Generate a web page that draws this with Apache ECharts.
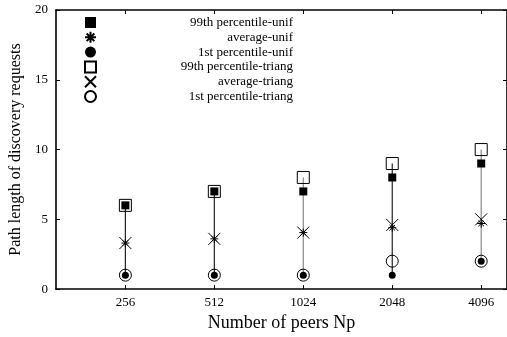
<!DOCTYPE html>
<html>
<head>
<meta charset="utf-8">
<script src="https://cdn.jsdelivr.net/npm/echarts@6/dist/echarts.min.js"></script>
<style>
html, body { margin: 0; padding: 0; background: #fff; }
#main { width: 507px; height: 337px; }
</style>
</head>
<body>
<div id="main"></div>
<script>
// peers (category labels) and measured path lengths
var peers = ['256', '512', '1024', '2048', '4096'];
var p99Unif = [6, 7, 7, 8, 9];
var avgUnif = [3.3, 3.6, 4.05, 4.4, 4.7];
var p1Unif = [1, 1, 1, 1, 2];
var p99Triang = [6, 7, 8, 9, 10];
var avgTriang = [3.3, 3.6, 4.05, 4.6, 5.0];
var p1Triang = [1, 1, 1, 2, 2];
var yTicks = [0, 5, 10, 15, 20];

var font = 'Liberation Serif';
var idx = peers.map(function (p, i) { return i; });

function pts(vals) {
    return vals.map(function (v, i) { return [i, v]; });
}

// one vertical bar per peer count, from lowest 1st percentile to highest 99th
var ranges = idx.map(function (i) {
    return [i, Math.min(p1Unif[i], p1Triang[i]), Math.max(p99Unif[i], p99Triang[i])];
});
var barColors = ['#222', '#222', '#888', '#222', '#888'];

var asterisk = 'path://M5,0V10M0,5H10M1.5,1.5L8.5,8.5M8.5,1.5L1.5,8.5';
var cross = 'path://M0,0L10,10M10,0L0,10';

var solid = { color: '#000', opacity: 1 };
var outline = { color: 'transparent', borderColor: '#000', borderWidth: 1, opacity: 1 };
var frame = { show: true, onZero: false, lineStyle: { color: '#000', width: 1.6 } };

var chart = echarts.init(document.getElementById('main'));
var option = {
    animation: false,
    backgroundColor: '#fff',
    textStyle: { fontFamily: font },
    grid: { left: 56, top: 10, right: -3, bottom: 47 },
    legend: {
        orient: 'vertical',
        left: 84,
        top: 16,
        padding: 0,
        itemWidth: 11,
        itemHeight: 11,
        itemGap: 1.8,
        data: ['99th percentile-unif', 'average-unif', '1st percentile-unif',
            '99th percentile-triang', 'average-triang', '1st percentile-triang'],
        formatter: function (name) { return '{t|' + name + '}'; },
        textStyle: {
            rich: {
                t: { width: 192, align: 'right', fontSize: 13, lineHeight: 12, fontFamily: font, color: '#000' }
            }
        }
    },
    xAxis: [{
        type: 'value',
        min: -0.78,
        max: 4.29,
        name: 'Number of peers Np',
        nameLocation: 'middle',
        nameGap: 24,
        nameTextStyle: { fontSize: 18, fontFamily: font, color: '#000' },
        axisLine: frame,
        axisTick: { inside: true, length: 4, customValues: idx, lineStyle: { color: '#000' } },
        axisLabel: {
            customValues: idx,
            formatter: function (v) { return peers[v]; },
            fontSize: 13, fontFamily: font, color: '#000', margin: 7
        },
        splitLine: { show: false }
    }, {
        type: 'value',
        position: 'top',
        min: -0.78,
        max: 4.29,
        axisLine: frame,
        axisTick: { inside: true, length: 4, customValues: idx, lineStyle: { color: '#000' } },
        axisLabel: { show: false },
        splitLine: { show: false }
    }],
    yAxis: [{
        type: 'value',
        min: 0,
        max: 20,
        interval: 5,
        name: 'Path length of discovery requests',
        nameLocation: 'middle',
        nameGap: 32,
        nameTextStyle: { fontSize: 16, fontFamily: font, color: '#000' },
        axisLine: frame,
        axisTick: { inside: true, length: 4, lineStyle: { color: '#000' } },
        axisLabel: {
            fontSize: 13, fontFamily: font, color: '#000', margin: 8,
            formatter: function (v) { return yTicks.indexOf(v) >= 0 ? String(v) : ''; }
        },
        splitLine: { show: false }
    }, {
        type: 'value',
        position: 'right',
        min: 0,
        max: 20,
        interval: 5,
        axisLine: frame,
        axisTick: { inside: true, length: 4, lineStyle: { color: '#000' } },
        axisLabel: { show: false },
        splitLine: { show: false }
    }],
    series: [{
        type: 'custom',
        name: 'range',
        data: ranges,
        renderItem: function (params, api) {
            var a = api.coord([api.value(0), api.value(1)]);
            var b = api.coord([api.value(0), api.value(2)]);
            return {
                type: 'line',
                shape: { x1: a[0], y1: a[1], x2: b[0], y2: b[1] },
                style: { stroke: barColors[params.dataIndex], lineWidth: 1.2 }
            };
        },
        silent: true,
        z: 1
    }, {
        name: '99th percentile-unif', type: 'scatter', symbol: 'rect', symbolSize: 8,
        itemStyle: solid, data: pts(p99Unif), z: 3
    }, {
        name: 'average-unif', type: 'scatter', symbol: asterisk, symbolSize: 8,
        itemStyle: outline, data: pts(avgUnif), z: 3
    }, {
        name: '1st percentile-unif', type: 'scatter', symbol: 'circle', symbolSize: 7,
        itemStyle: solid, data: pts(p1Unif), z: 3
    }, {
        name: '99th percentile-triang', type: 'scatter', symbol: 'rect', symbolSize: 12,
        itemStyle: outline, data: pts(p99Triang), z: 4
    }, {
        name: 'average-triang', type: 'scatter', symbol: cross, symbolSize: 12,
        itemStyle: outline, data: pts(avgTriang), z: 4
    }, {
        name: '1st percentile-triang', type: 'scatter', symbol: 'circle', symbolSize: 12,
        itemStyle: outline, data: pts(p1Triang), z: 4
    }]
};
chart.setOption(option);
</script>
</body>
</html>
